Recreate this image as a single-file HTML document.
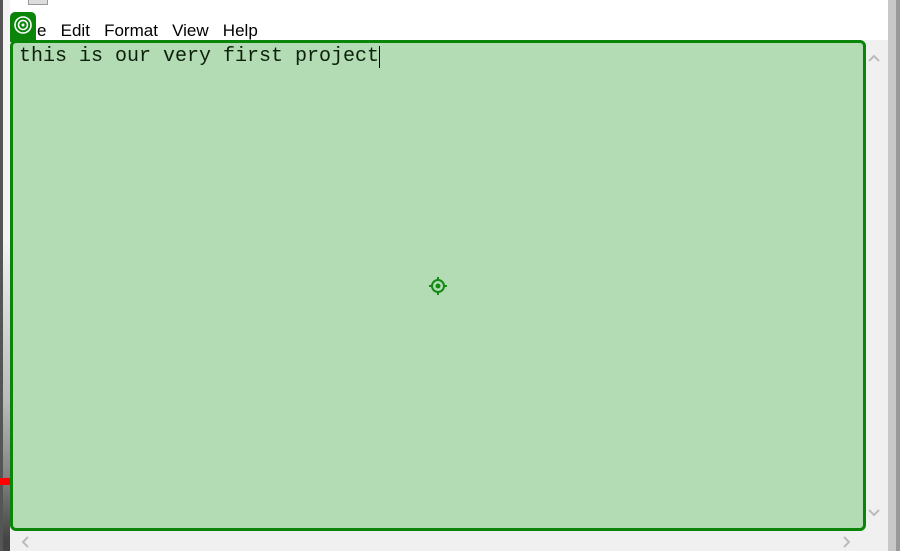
<!DOCTYPE html>
<html><head><style>
body{margin:0;width:900px;height:551px;overflow:hidden;background:#fff;position:relative;font-family:"Liberation Sans",sans-serif}
.abs{position:absolute}
</style></head><body>
<div class="abs" style="left:0;top:0;width:10px;height:551px;background:linear-gradient(#f4f4f4 0,#f4f4f4 240px,#ddd 300px,#bbb 400px,#888 470px,#444 540px)"></div>
<div class="abs" style="left:0;top:0;width:3px;height:551px;background:#555"></div>
<div class="abs" style="left:0;top:478px;width:10px;height:7px;background:#f00"></div>
<div class="abs" style="left:28px;top:0;width:18px;height:4px;background:#ddd;border:1px solid #999;border-top:none"></div>
<div class="abs" style="left:10px;top:40px;width:878px;height:511px;background:#f0f0f0"></div>
<div class="abs" style="left:888px;top:0;width:12px;height:551px;background:#c8c8c8"></div>
<div class="abs" style="left:896px;top:0;width:4px;height:551px;background:#999"></div>
<div class="abs" style="left:37px;top:21px;font-size:17px;color:#000;white-space:pre">e   Edit   Format   View   Help</div>
<div class="abs" style="left:10px;top:40px;width:850px;height:485px;background:#b4dcb4;border:3px solid #0a850a;border-radius:6px"></div>
<div class="abs" style="left:19px;top:45px;font-family:'Liberation Mono',monospace;font-size:20px;color:#0c200c;white-space:pre">this is our very first project</div>
<div class="abs" style="left:379px;top:46px;width:1px;height:22px;background:#000"></div>
<div class="abs" style="left:10px;top:12px;width:26px;height:30px;background:#0a850a;border-radius:5px 5px 0 0"></div>
<svg class="abs" style="left:12px;top:14px" width="22" height="22"><circle cx="11" cy="11" r="8" fill="none" stroke="#fff" stroke-width="1.6"/><circle cx="11" cy="11" r="4.5" fill="none" stroke="#fff" stroke-width="1.6"/><circle cx="11" cy="11" r="1.5" fill="#fff"/></svg>
<svg class="abs" style="left:427px;top:275px" width="22" height="22"><circle cx="11" cy="11" r="6" fill="none" stroke="#138a13" stroke-width="2"/><circle cx="11" cy="11" r="2.5" fill="#138a13"/><path d="M11 2v4M11 16v4M2 11h4M16 11h4" stroke="#138a13" stroke-width="2"/></svg>
<svg class="abs" style="left:867px;top:53px" width="14" height="10"><path d="M2 8l5-5 5 5" fill="none" stroke="#bbb" stroke-width="2"/></svg>
<svg class="abs" style="left:867px;top:508px" width="14" height="10"><path d="M2 2l5 5 5-5" fill="none" stroke="#bbb" stroke-width="2"/></svg>
<svg class="abs" style="left:20px;top:536px" width="10" height="12"><path d="M8 1L3 6l5 5" fill="none" stroke="#bbb" stroke-width="2"/></svg>
<svg class="abs" style="left:842px;top:536px" width="10" height="12"><path d="M2 1l5 5-5 5" fill="none" stroke="#bbb" stroke-width="2"/></svg>
</body></html>
